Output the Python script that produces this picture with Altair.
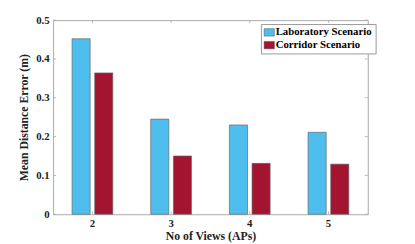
import altair as alt
import pandas as pd

views = ["2", "3", "4", "5"]
lab = [0.452, 0.245, 0.230, 0.211]
corridor = [0.364, 0.150, 0.131, 0.129]
series = ["Laboratory Scenario", "Corridor Scenario"]
colors = ["#4DBEEE", "#A2142F"]
yticks = [0, 0.1, 0.2, 0.3, 0.4, 0.5]

rows = []
for v, a, b in zip(views, lab, corridor):
    rows.append({"views": v, "series": series[0], "value": a})
    rows.append({"views": v, "series": series[1], "value": b})
df = pd.DataFrame(rows)
tick_df = pd.DataFrame({"y": yticks})
xt_df = pd.DataFrame({"views": views})

W, H = 321, 198
font = "Liberation Serif"
axis_gray = "#a8a8a8"

xscale = alt.Scale(domain=views, paddingInner=0.482, paddingOuter=0.241)
yscale = alt.Scale(domain=[0, 0.5], nice=False)
xaxis = alt.Axis(title="No of Views (APs)", labelAngle=0, ticks=False, domain=False,
                 labelPadding=4, titlePadding=2, labelOverlap=False)
yaxis = alt.Axis(title="Mean Distance Error (m)", values=yticks, ticks=False,
                 domain=False, grid=False, format="~g", labelPadding=4,
                 titlePadding=5, labelOverlap=False)

bars = alt.Chart(df).mark_bar(stroke="#6a6a6a", strokeWidth=0.7).encode(
    x=alt.X("views:N", scale=xscale, sort=views, axis=xaxis),
    xOffset=alt.XOffset("series:N", sort=series,
                        scale=alt.Scale(paddingInner=0.2, paddingOuter=0)),
    y=alt.Y("value:Q", scale=yscale, axis=yaxis),
    color=alt.Color("series:N", sort=series,
                    scale=alt.Scale(domain=series, range=colors),
                    legend=alt.Legend(title=None, orient="none", legendX=212, legendY=4,
                                      strokeColor="#9a9a9a", fillColor="white",
                                      padding=3, rowPadding=1,
                                      symbolType="M-1,-0.72H1V0.72H-1Z", symbolSize=110,
                                      symbolStrokeColor="#555", symbolStrokeWidth=0.5,
                                      labelFont=font, labelFontSize=11,
                                      labelFontWeight="bold", labelColor="black",
                                      labelOffset=1)),
)

yt_left = alt.Chart(tick_df).mark_rule(color=axis_gray, strokeWidth=0.8).encode(
    y=alt.Y("y:Q", scale=yscale, axis=yaxis), x=alt.value(0), x2=alt.value(3))
yt_right = alt.Chart(tick_df).mark_rule(color=axis_gray, strokeWidth=0.8).encode(
    y=alt.Y("y:Q", scale=yscale, axis=yaxis), x=alt.value(W - 3), x2=alt.value(W))
xt_bottom = alt.Chart(xt_df).mark_rule(color=axis_gray, strokeWidth=0.8).encode(
    x=alt.X("views:N", scale=xscale, sort=views, axis=xaxis), y=alt.value(H), y2=alt.value(H - 3))
xt_top = alt.Chart(xt_df).mark_rule(color=axis_gray, strokeWidth=0.8).encode(
    x=alt.X("views:N", scale=xscale, sort=views, axis=xaxis), y=alt.value(0), y2=alt.value(3))

chart = alt.layer(bars, yt_left, yt_right, xt_bottom, xt_top).properties(
    width=W, height=H,
    background="white",
    autosize=alt.AutoSizeParams(type="none"),
    padding={"left": 46, "top": 10, "right": 40, "bottom": 28},
).configure_view(stroke=axis_gray, strokeWidth=1).configure_axis(
    labelFont=font, labelFontWeight="bold", labelFontSize=11, labelColor="#222",
    titleFont=font, titleFontWeight="bold", titleFontSize=12, titleColor="#222",
)

chart.save("out.html", embed_options={"renderer": "svg", "actions": False})
